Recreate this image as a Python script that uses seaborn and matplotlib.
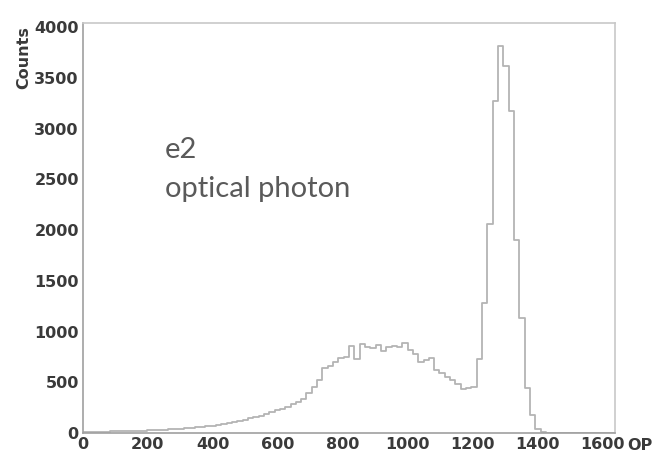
import numpy as np
import pandas as pd
import matplotlib
matplotlib.use("Agg")
import matplotlib.pyplot as plt
from matplotlib.ticker import MultipleLocator
import seaborn as sns

x_min, x_max, n_bins = 0, 1640, 100
counts = [
    8, 12, 10, 12, 14, 15, 16, 18, 18, 20,
    22, 24, 26, 28, 30, 32, 35, 38, 42, 46,
    50, 55, 60, 66, 72, 80, 88, 98, 108, 120,
    132, 145, 158, 172, 188, 205, 222, 240, 260, 282,
    305, 340, 390, 450, 520, 640, 660, 700, 740, 745,
    860, 730, 880, 850, 840, 870, 810, 850, 860, 850,
    890, 820, 780, 700, 720, 740, 620, 590, 550, 520,
    480, 430, 440, 450, 730, 1280, 2060, 3270, 3816, 3620,
    3170, 1900, 1130, 440, 175, 35, 12, 5, 0, 0,
    0, 0, 0, 0, 0, 0, 0, 0, 0, 0,
]
edges = np.linspace(x_min, x_max, n_bins + 1)
df = pd.DataFrame({"OP": (edges[:-1] + edges[1:]) / 2, "n": counts})

x_ticks = [0, 200, 400, 600, 800, 1000, 1200, 1400, 1600]
y_ticks = [0, 500, 1000, 1500, 2000, 2500, 3000, 3500, 4000]

LINE = "#b4b4b4"
FRAME = "#a0a0a0"
TEXT = "#3a3a3a"

sns.set_style("white")

fig = plt.figure(figsize=(6.68, 4.57), dpi=100)
ax = fig.add_axes([0.1243, 0.0525, 0.7964, 0.8972])

sns.histplot(data=df, x="OP", weights="n", bins=n_bins,
             binrange=(x_min, x_max), element="step", fill=False,
             color=LINE, linewidth=1.3, ax=ax)

ax.set_xlim(x_min, x_max)
ax.set_ylim(0, 4040)
ax.set_xticks(x_ticks)
ax.set_yticks(y_ticks)
ax.xaxis.set_minor_locator(MultipleLocator(50))
ax.yaxis.set_minor_locator(MultipleLocator(100))
ax.tick_params(which="major", direction="in", length=8, width=1, color=FRAME,
               labelsize=11.5, labelcolor=TEXT, pad=3)
ax.tick_params(which="minor", direction="in", length=4, width=0.8, color=FRAME)
for lab in ax.get_xticklabels() + ax.get_yticklabels():
    lab.set_fontweight("bold")

for side, sp in ax.spines.items():
    sp.set_visible(True)
    sp.set_linewidth(1.2)
    sp.set_edgecolor(FRAME if side in ("left", "bottom") else "#c8c8c8")

ax.set_xlabel("")
ax.set_ylabel("")
fig.text(0.036, 0.875, "Counts", rotation=90, ha="center", va="center",
         fontsize=11.5, fontweight="bold", color=TEXT)
fig.text(0.958, 0.025, "OP", ha="center", va="center",
         fontsize=11.5, fontweight="bold", color=TEXT)

ax.text(252, 2713, "e2", fontsize=21, color="#5a5a5a", family="Lato",
        va="baseline", ha="left")
ax.text(252, 2323, "optical photon", fontsize=21, color="#5a5a5a",
        family="Lato", va="baseline", ha="left")

fig.savefig("out.png", dpi=100, facecolor="white")
